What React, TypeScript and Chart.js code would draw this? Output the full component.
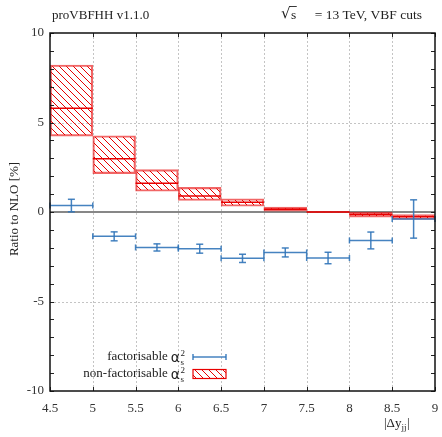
import { useEffect, useRef } from "react";
import { Chart, registerables } from "chart.js";
Chart.register(...registerables);

// ---- data ----
const binEdges = [4.5, 5, 5.5, 6, 6.5, 7, 7.5, 8, 8.5, 9];
const nfCentral = [5.8, 2.98, 1.6, 0.9, 0.55, 0.16, 0.0, -0.14, -0.27];
const nfLow = [4.24, 2.14, 1.16, 0.64, 0.32, 0.04, -0.03, -0.29, -0.42];
const nfHigh = [8.21, 4.26, 2.37, 1.38, 0.74, 0.27, 0.03, -0.01, -0.14];
const fValue = [0.36, -1.36, -1.98, -2.05, -2.59, -2.26, -2.57, -1.59, -0.39];
const fError = [0.35, 0.25, 0.2, 0.25, 0.23, 0.25, 0.32, 0.47, 1.07];
const xTicks = [4.5, 5, 5.5, 6, 6.5, 7, 7.5, 8, 8.5, 9];
const yTicks = [-10, -5, 0, 5, 10];
const yMinorTicks = [-10, -9, -8, -7, -6, -5, -4, -3, -2, -1, 0, 1, 2, 3, 4, 5, 6, 7, 8, 9, 10];
const yGrid = [-5, 5];
const titleLeft = "proVBFHH v1.1.0";
const titleRight = "= 13 TeV, VBF cuts";
const yTitle = "Ratio to NLO [%]";
const legendLabels = ["factorisable", "non-factorisable"];

const RED = "rgb(232,0,0)";
const RED_EDGE = "rgba(232,0,0,0.6)";
const BLUE = "rgba(50,118,185,0.9)";
const SERIF = "'Liberation Serif', serif";
const SANS = "'DejaVu Sans', sans-serif";

function makeHatch(): CanvasPattern | string {
  const n = 7;
  const c = document.createElement("canvas");
  c.width = n;
  c.height = n;
  const g = c.getContext("2d");
  if (!g) return "rgba(0,0,0,0)";
  g.strokeStyle = RED;
  g.lineWidth = 1;
  g.beginPath();
  g.moveTo(0, 0);
  g.lineTo(n, n);
  g.moveTo(-1, n - 1);
  g.lineTo(1, n + 1);
  g.moveTo(n - 1, -1);
  g.lineTo(n + 1, 1);
  g.stroke();
  const p = g.createPattern(c, "repeat");
  return p || RED;
}

function line(ctx: CanvasRenderingContext2D, x1: number, y1: number, x2: number, y2: number) {
  ctx.beginPath();
  ctx.moveTo(x1, y1);
  ctx.lineTo(x2, y2);
  ctx.stroke();
}

// draws alpha_s^2 ending at rightX, returns left x
function drawAlpha(ctx: CanvasRenderingContext2D, rightX: number, cy: number) {
  ctx.save();
  ctx.textBaseline = "alphabetic";
  ctx.textAlign = "left";
  ctx.font = `9px ${SERIF}`;
  const wSub = Math.max(ctx.measureText("s").width, ctx.measureText("2").width);
  const sx = rightX - wSub;
  ctx.fillText("2", sx, cy - 1);
  ctx.fillText("s", sx, cy + 8);
  ctx.font = `14px ${SANS}`;
  const wa = ctx.measureText("\u03b1").width;
  const ax = sx - wa - 0.5;
  ctx.fillText("\u03b1", ax, cy + 5);
  ctx.restore();
  return ax;
}

function drawErrorBar(ctx: CanvasRenderingContext2D, x1: number, x2: number, yc: number, yt?: number, yb?: number) {
  const xm = (x1 + x2) / 2;
  line(ctx, x1, yc, x2, yc);
  line(ctx, x1, yc - 3, x1, yc + 3);
  line(ctx, x2, yc - 3, x2, yc + 3);
  if (yt !== undefined && yb !== undefined) {
    line(ctx, xm, yt, xm, yb);
    line(ctx, xm - 3.5, yt, xm + 3.5, yt);
    line(ctx, xm - 3.5, yb, xm + 3.5, yb);
  }
}

const decor = {
  id: "decor",
  beforeDatasetsDraw(chart: any) {
    const { ctx, chartArea: a, scales } = chart;
    const x = scales.x;
    const y = scales.y;
    ctx.save();
    ctx.strokeStyle = "#c4c4c4";
    ctx.lineWidth = 1;
    ctx.setLineDash([2, 2]);
    xTicks.forEach((v) => {
      if (v === xTicks[0] || v === xTicks[xTicks.length - 1]) return;
      const px = Math.round(x.getPixelForValue(v)) + 0.5;
      line(ctx, px, a.top, px, a.bottom);
    });
    yGrid.forEach((v) => {
      const py = Math.round(y.getPixelForValue(v)) + 0.5;
      line(ctx, a.left, py, a.right, py);
    });
    ctx.setLineDash([]);
    ctx.strokeStyle = "#111";
    ctx.lineWidth = 1.2;
    const y0 = y.getPixelForValue(0);
    line(ctx, a.left, y0, a.right, y0);
    ctx.restore();
  },
  afterDatasetsDraw(chart: any) {
    const { ctx, scales } = chart;
    const x = scales.x;
    const y = scales.y;
    ctx.save();
    ctx.strokeStyle = RED;
    ctx.lineWidth = 1.5;
    nfCentral.forEach((v, i) => {
      const py = y.getPixelForValue(v);
      line(ctx, x.getPixelForValue(binEdges[i]), py, x.getPixelForValue(binEdges[i + 1]), py);
    });
    ctx.strokeStyle = BLUE;
    ctx.lineWidth = 1.5;
    fValue.forEach((v, i) => {
      drawErrorBar(
        ctx,
        x.getPixelForValue(binEdges[i]),
        x.getPixelForValue(binEdges[i + 1]),
        y.getPixelForValue(v),
        y.getPixelForValue(v + fError[i]),
        y.getPixelForValue(v - fError[i])
      );
    });
    ctx.restore();
  },
  afterDraw(chart: any) {
    const { ctx, chartArea: a, scales } = chart;
    const x = scales.x;
    const y = scales.y;
    ctx.save();
    // ticks
    ctx.strokeStyle = "#222";
    ctx.lineWidth = 1;
    xTicks.forEach((v) => {
      const px = Math.round(x.getPixelForValue(v)) + 0.5;
      line(ctx, px, a.bottom, px, a.bottom - 4);
      line(ctx, px, a.top, px, a.top + 4);
    });
    yMinorTicks.forEach((v) => {
      const py = Math.round(y.getPixelForValue(v)) + 0.5;
      line(ctx, a.left, py, a.left + 4, py);
      line(ctx, a.right, py, a.right - 4, py);
    });
    // border
    ctx.strokeStyle = "#111";
    ctx.lineWidth = 1.5;
    ctx.strokeRect(a.left, a.top, a.right - a.left, a.bottom - a.top);

    // titles
    ctx.fillStyle = "#222";
    ctx.font = `13px ${SERIF}`;
    ctx.textBaseline = "middle";
    ctx.textAlign = "left";
    ctx.fillText(titleLeft, 52, 16);
    ctx.font = `13.5px ${SERIF}`;
    ctx.textAlign = "right";
    ctx.fillText(titleRight, 422, 15);
    ctx.textAlign = "left";
    ctx.fillText("s", 291, 15);
    const ws = ctx.measureText("s").width;
    ctx.font = `15px ${SANS}`;
    ctx.fillText("\u221a", 281, 14);
    ctx.lineWidth = 0.9;
    ctx.strokeStyle = "#222";
    line(ctx, 289.5, 6.5, 291 + ws + 0.5, 6.5);

    // y title
    ctx.font = `13px ${SERIF}`;
    ctx.save();
    ctx.translate(15, 209);
    ctx.rotate(-Math.PI / 2);
    ctx.textAlign = "center";
    ctx.textBaseline = "middle";
    ctx.fillText(yTitle, 0, 0);
    ctx.restore();

    // x title |Δy_jj|
    ctx.textBaseline = "alphabetic";
    ctx.textAlign = "left";
    ctx.font = `13px ${SERIF}`;
    let tx = 384;
    const base = 427;
    ctx.fillText("|\u0394y", tx, base);
    tx += ctx.measureText("|\u0394y").width;
    ctx.font = `9px ${SERIF}`;
    ctx.fillText("jj", tx, base + 3);
    tx += ctx.measureText("jj").width + 0.5;
    ctx.font = `13px ${SERIF}`;
    ctx.fillText("|", tx, base);

    // legend
    const lx1 = 193;
    const lx2 = 226;
    const r1 = 357;
    const r2 = 374;
    ctx.fillStyle = "#222";
    let ax = drawAlpha(ctx, 185, r1);
    ctx.font = `13px ${SERIF}`;
    ctx.textAlign = "right";
    ctx.textBaseline = "middle";
    ctx.fillText(legendLabels[0], ax - 3, r1);
    ax = drawAlpha(ctx, 185, r2);
    ctx.font = `13px ${SERIF}`;
    ctx.textAlign = "right";
    ctx.textBaseline = "middle";
    ctx.fillText(legendLabels[1], ax - 3, r2);
    ctx.strokeStyle = BLUE;
    ctx.lineWidth = 1.5;
    drawErrorBar(ctx, lx1, lx2, r1);
    const pat = chart.data.datasets[0].backgroundColor;
    ctx.fillStyle = pat;
    ctx.fillRect(lx1, r2 - 4.5, lx2 - lx1, 9);
    ctx.strokeStyle = RED;
    ctx.lineWidth = 1.2;
    ctx.strokeRect(lx1, r2 - 4.5, lx2 - lx1, 9);
    ctx.restore();
  },
};

export default function App() {
  const ref = useRef<HTMLCanvasElement | null>(null);
  useEffect(() => {
    document.body.style.margin = "0";
    const canvas = ref.current;
    if (!canvas) return;
    const hatch = makeHatch();
    const chart = new Chart(canvas, {
      type: "bar",
      data: {
        datasets: [
          {
            label: "non-factorisable",
            data: nfLow.map((lo, i) => ({
              x: (binEdges[i] + binEdges[i + 1]) / 2,
              y: [lo, nfHigh[i]],
            })) as any,
            backgroundColor: hatch as any,
            borderColor: RED_EDGE,
            borderWidth: 1.5,
            borderSkipped: false,
            barPercentage: 1,
            categoryPercentage: 1,
          },
        ],
      },
      options: {
        animation: false,
        responsive: false,
        maintainAspectRatio: false,
        layout: { padding: { top: 33, right: 7, left: 0, bottom: 0 } },
        plugins: {
          legend: { display: false },
          tooltip: { enabled: false },
          title: { display: false },
        },
        scales: {
          x: {
            type: "linear",
            min: 4.5,
            max: 9,
            offset: false,
            grid: { display: false, drawTicks: true, tickLength: 8 },
            border: { display: false },
            afterBuildTicks: (s: any) => {
              s.ticks = xTicks.map((v) => ({ value: v }));
            },
            afterFit: (s: any) => {
              s.height = 46;
            },
            ticks: {
              color: "#333",
              padding: 2,
              maxRotation: 0,
              autoSkip: false,
              font: { family: SERIF, size: 13 },
              callback: (v: any) => String(v),
            },
          },
          y: {
            type: "linear",
            min: -10,
            max: 10,
            grid: { display: false, drawTicks: false },
            border: { display: false },
            afterBuildTicks: (s: any) => {
              s.ticks = yTicks.map((v) => ({ value: v }));
            },
            afterFit: (s: any) => {
              s.width = 50;
            },
            ticks: {
              color: "#333",
              padding: 6,
              autoSkip: false,
              font: { family: SERIF, size: 13 },
              callback: (v: any) => String(v),
            },
          },
        },
      },
      plugins: [decor],
    });
    return () => chart.destroy();
  }, []);
  return <canvas ref={ref} width={442} height={437} style={{ display: "block" }} />;
}
